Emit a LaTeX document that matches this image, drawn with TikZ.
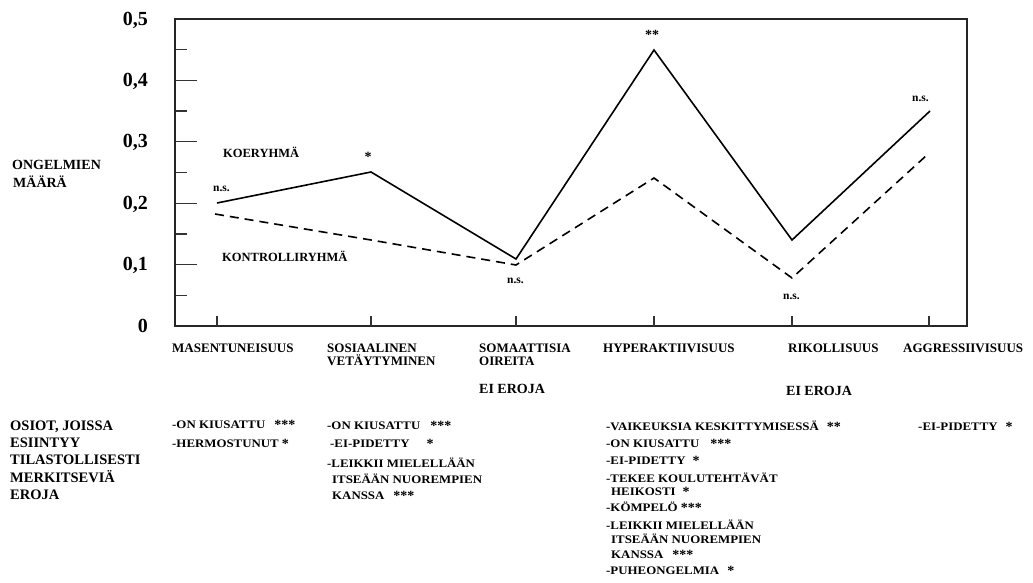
\documentclass[tikz,border=0pt]{standalone}
\usepackage{fontspec}
\setmainfont{Liberation Serif}
\newfontfamily\itemfont[FakeStretch=1.12]{Liberation Serif}
\newcommand\mystars[2]{\hspace{#1pt}\raisebox{-1.5pt}{\fontspec{Liberation Serif}\bfseries\fontsize{14}{14}\selectfont #2}}
\begin{document}
\begin{tikzpicture}[x=1pt,y=-1pt,
  frame/.style={draw=black!85,line width=1.7pt},
  tickline/.style={draw=black!80,line width=1.2pt},
  solidline/.style={draw=black,line width=1.6pt,line join=miter},
  dashline/.style={draw=black,line width=1.6pt,dash pattern=on 9pt off 6pt},
  num/.style={anchor=base east,inner sep=0pt,font=\bfseries\fontsize{20}{20}\selectfont},
  lab/.style={anchor=base west,inner sep=0pt,font=\bfseries\fontsize{13}{13}\selectfont},
  big/.style={anchor=base west,inner sep=0pt,font=\bfseries\fontsize{14.5}{14.5}\selectfont},
  eroja/.style={anchor=base west,inner sep=0pt,font=\bfseries\fontsize{14}{14}\selectfont},
  itemtext/.style={anchor=base west,inner sep=0pt,font=\itemfont\bfseries\fontsize{11.5}{12}\selectfont},
  nslab/.style={anchor=base west,inner sep=0pt,font=\bfseries\fontsize{11.5}{11.5}\selectfont},
  starmark/.style={anchor=base,inner sep=0pt,font=\bfseries\fontsize{14}{14}\selectfont}]
\useasboundingbox[fill=white] (0,0) rectangle (1033,583);

% frame
\draw[frame] (175,19) rectangle (967,326);
% y ticks
\foreach \v/\n in {0.1/t1,0.2/t2,0.3/t3,0.4/t4}{
  \coordinate (\n a) at (176,{326-\v*614});
  \coordinate (\n b) at (197,{326-\v*614});
  \draw[tickline] (\n a) -- (\n b);
}
\foreach \v/\n in {0.05/m1,0.15/m2,0.25/m3,0.35/m4,0.45/m5}{
  \coordinate (\n a) at (176,{326-\v*614});
  \coordinate (\n b) at (187,{326-\v*614});
  \draw[tickline] (\n a) -- (\n b);
}
% x ticks
\foreach \x/\n in {217/x1,371/x2,516/x3,654/x4,792/x5,929/x6}{
  \coordinate (\n a) at (\x,316);
  \coordinate (\n b) at (\x,326);
  \draw[tickline] (\n a) -- (\n b);
}
% y labels
\node[num] (y5) at (148,25.7) {0,5};
\node[num] (y4) at (148,86.7) {0,4};
\node[num] (y3) at (148,147.7) {0,3};
\node[num] (y2) at (148,209.7) {0,2};
\node[num] (y1) at (148,270.7) {0,1};
\node[num] (y0) at (148,332.7) {0};

\node[lab,font=\bfseries\fontsize{14}{14}\selectfont] (ong1) at (12,169.5) {ONGELMIEN};
\node[lab,font=\bfseries\fontsize{14}{14}\selectfont] (ong2) at (13,187.5) {MÄÄRÄ};

% data
\coordinate (s1) at (217,203);
\coordinate (s2) at (371,172);
\coordinate (s3) at (516,259);
\coordinate (s4) at (654,50);
\coordinate (s5) at (792,240);
\coordinate (s6) at (930,111);
\coordinate (d1) at (215,214);
\coordinate (d2) at (371,240);
\coordinate (d3) at (516,265);
\coordinate (d4) at (654,178);
\coordinate (d5) at (792,278);
\coordinate (d6) at (927,155);
\draw[solidline] (s1) -- (s2) -- (s3) -- (s4) -- (s5) -- (s6);
\draw[dashline] (d1) -- (d2) -- (d3) -- (d4) -- (d5) -- (d6);

\node[lab,font=\bfseries\fontsize{12.5}{12.5}\selectfont] (koe) at (223,157.5) {KOERYHMÄ};
\node[lab,font=\bfseries\fontsize{12.5}{12.5}\selectfont] (kon) at (222,261.5) {KONTROLLIRYHMÄ};
\node[nslab] (ns1) at (213,191) {n.s.};
\node[nslab] (ns2) at (507,283) {n.s.};
\node[nslab] (ns3) at (783,299) {n.s.};
\node[nslab] (ns4) at (912,102) {n.s.};
\node[starmark] (st2) at (368,161) {*};
\node[starmark] (st4) at (652,40) {**};

% category labels
\node[lab] (c1) at (172,352.5) {MASENTUNEISUUS};
\node[lab] (c2a) at (327,352.5) {SOSIAALINEN};
\node[lab] (c2b) at (327,365.5) {VETÄYTYMINEN};
\node[lab] (c3a) at (479,352.5) {SOMAATTISIA};
\node[lab] (c3b) at (479,365.5) {OIREITA};
\node[lab] (c4) at (603,352.5) {HYPERAKTIIVISUUS};
\node[lab] (c5) at (788,352.5) {RIKOLLISUUS};
\node[lab] (c6) at (903,352.5) {AGGRESSIIVISUUS};
\node[eroja] (e1) at (479,393) {EI EROJA};
\node[eroja] (e2) at (786,395) {EI EROJA};

% left block
\node[big] (o1) at (10,430) {OSIOT, JOISSA};
\node[big] (o2) at (10,447) {ESIINTYY};
\node[big] (o3) at (10,464.5) {TILASTOLLISESTI};
\node[big] (o4) at (10,482) {MERKITSEVIÄ};
\node[big] (o5) at (10,499) {EROJA};

% column 1
\node[itemtext] (a1) at (172,428) {-ON KIUSATTU\mystars{9}{***}};
\node[itemtext] (a2) at (172,447) {-HERMOSTUNUT\mystars{3}{*}};

% column 2
\node[itemtext] (b1) at (327,429) {-ON KIUSATTU\mystars{10}{***}};
\node[itemtext] (b2) at (330,447) {-EI-PIDETTY\mystars{17}{*}};
\node[itemtext] (b3) at (327,467) {-LEIKKII MIELELLÄÄN};
\node[itemtext] (b4) at (332,483) {ITSEÄÄN NUOREMPIEN};
\node[itemtext] (b5) at (332,499) {KANSSA\mystars{9}{***}};

% column 3
\node[itemtext] (h1) at (606,430) {-VAIKEUKSIA KESKITTYMISESSÄ\mystars{8}{**}};
\node[itemtext] (h2) at (606,447) {-ON KIUSATTU\mystars{11}{***}};
\node[itemtext] (h3) at (606,464) {-EI-PIDETTY\mystars{7}{*}};
\node[itemtext] (h4) at (606,482) {-TEKEE KOULUTEHTÄVÄT};
\node[itemtext] (h5) at (611,495) {HEIKOSTI\mystars{7}{*}};
\node[itemtext] (h6) at (606,511) {-KÖMPELÖ\mystars{3}{***}};
\node[itemtext] (h7) at (606,529) {-LEIKKII MIELELLÄÄN};
\node[itemtext] (h8) at (611,543) {ITSEÄÄN NUOREMPIEN};
\node[itemtext] (h9) at (611,558) {KANSSA\mystars{9}{***}};
\node[itemtext] (h10) at (606,574) {-PUHEONGELMIA\mystars{8}{*}};

% column 4
\node[itemtext] (g1) at (918,430) {-EI-PIDETTY\mystars{8}{*}};
\end{tikzpicture}
\end{document}
